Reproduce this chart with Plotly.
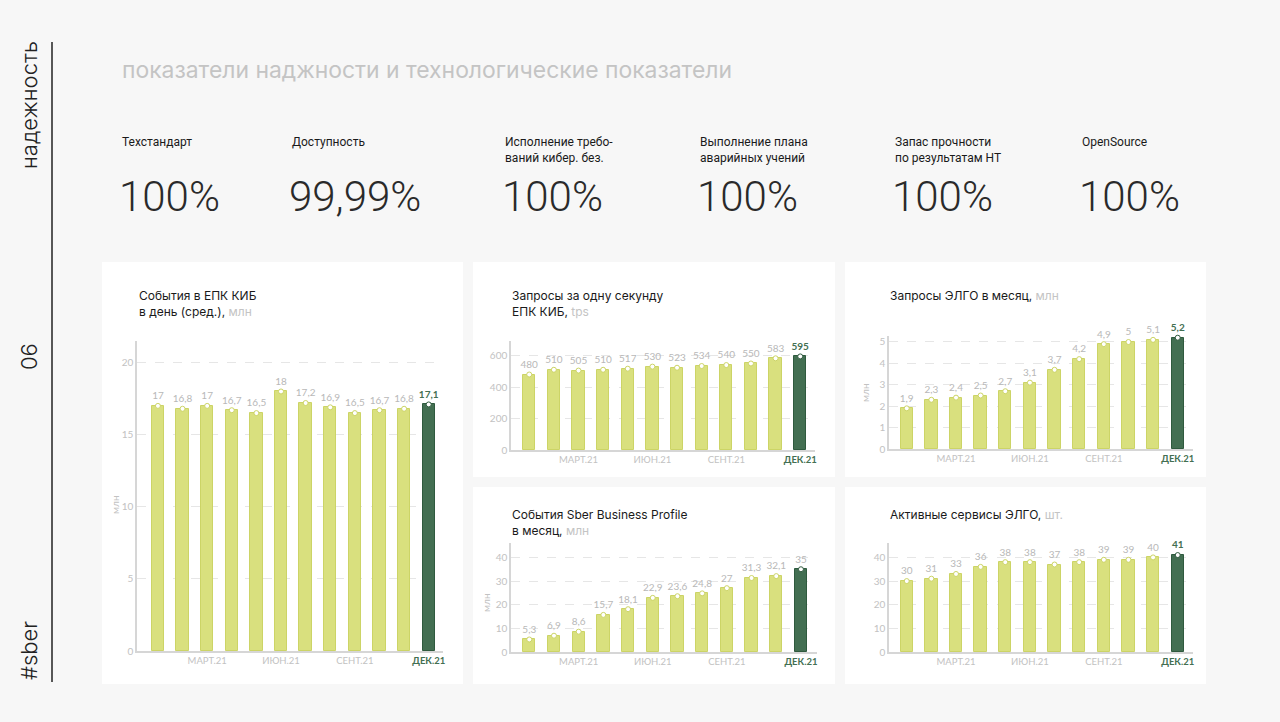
import plotly.graph_objects as go

W, H = 1280, 722

# месяцы 2021
month_idx = list(range(12))
month_ticks = [2, 5, 8, 11]
month_labels = ["МАРТ.21", "ИЮН.21", "СЕНТ.21", "ДЕК.21"]

# KPI сверху
kpi_names = ["Техстандарт", "Доступность", "Исполнение требо-<br>ваний кибер. без.",
             "Выполнение плана<br>аварийных учений", "Запас прочности<br>по результатам НТ", "OpenSource"]
kpi_values = ["100%", "99,99%", "100%", "100%", "100%", "100%"]

# ряды
epk_events = [17, 16.8, 17, 16.7, 16.5, 18, 17.2, 16.9, 16.5, 16.7, 16.8, 17.1]
epk_rps = [480, 510, 505, 510, 517, 530, 523, 534, 540, 550, 583, 595]
elgo_requests = [1.9, 2.3, 2.4, 2.5, 2.7, 3.1, 3.7, 4.2, 4.9, 5, 5.1, 5.2]
sbp_events = [5.3, 6.9, 8.6, 15.7, 18.1, 22.9, 23.6, 24.8, 27, 31.3, 32.1, 35]
elgo_services = [30, 31, 33, 36, 38, 38, 37, 38, 39, 39, 40, 41]

LIGHT = "#d9e07e"
LIGHT_LINE = "#ccd466"
DARK = "#436f52"
DARK_LINE = "#2f5a3e"
GREY = "#c2c2c2"
AXIS = "#d6d6d6"
BG = "#f7f7f7"


def px(x):
    return x / W


def py(y):
    return 1 - y / H


def fmt(v):
    return f"{v:g}".replace(".", ",")


grey_unit = "<span style='color:#c4c4c4'>%s</span>"

panels = [
    dict(vals=epk_events, title="События в ЕПК КИБ<br>в день (сред.), " + grey_unit % "млн",
         x0=137, x1=443, yb=651, yt=341, ymax=21.5, yticks=[0, 5, 10, 15, 20],
         xr=[-0.85, 11.58], tpos=(137, 303), ytitle=(115, 505), hl=True),
    dict(vals=epk_rps, title="Запросы за одну секунду<br>ЕПК КИБ, " + grey_unit % "tps",
         x0=511, x1=815, yb=450, yt=341, ymax=693, yticks=[0, 200, 400, 600],
         xr=[-0.74, 11.6], tpos=(510, 303), ytitle=None, hl=True),
    dict(vals=elgo_requests, title="Запросы ЭЛГО в месяц, " + grey_unit % "млн",
         x0=889, x1=1193, yb=449, yt=336, ymax=5.28, yticks=[0, 1, 2, 3, 4, 5],
         xr=[-0.72, 11.62], tpos=(888, 295), ytitle=(865, 393), hl=True),
    dict(vals=sbp_events, title="События Sber Business Profile<br>в месяц, " + grey_unit % "млн",
         x0=511, x1=817, yb=652, yt=543, ymax=46.1, yticks=[0, 10, 20, 30, 40],
         xr=[-0.74, 11.65], tpos=(510, 522), ytitle=(486, 603), hl=False),
    dict(vals=elgo_services, title="Активные сервисы ЭЛГО, " + grey_unit % "шт.",
         x0=889, x1=1193, yb=652, yt=543, ymax=46.1, yticks=[0, 10, 20, 30, 40],
         xr=[-0.72, 11.62], tpos=(888, 514), ytitle=None, hl=True),
]

# карточки (x0, y0, x1, y1)
cards = [(102, 262, 463, 684), (473, 262, 835, 477), (845, 262, 1206, 477),
         (473, 487, 835, 684), (845, 487, 1206, 684)]

fig = go.Figure()
annotations = []
shapes = []

for c in cards:
    shapes.append(dict(type="rect", xref="paper", yref="paper", x0=px(c[0]), x1=px(c[2]),
                       y0=py(c[3]), y1=py(c[1]), fillcolor="white", line=dict(width=0), layer="below"))

shapes.append(dict(type="line", xref="paper", yref="paper", x0=px(52), x1=px(52),
                   y0=py(682), y1=py(42), line=dict(color="#222222", width=1.5)))

tick_text = month_labels[:-1] + ["<b><span style='color:%s'>%s</span></b>" % (DARK, month_labels[-1])]

for i, p in enumerate(panels):
    n = "" if i == 0 else str(i + 1)
    vals = p["vals"]
    colors = [LIGHT] * (len(vals) - 1) + [DARK]
    lcolors = [LIGHT_LINE] * (len(vals) - 1) + [DARK_LINE]
    fig.add_trace(go.Bar(x=month_idx, y=vals, width=0.5, marker=dict(color=colors, line=dict(color=lcolors, width=1)),
                         xaxis="x" + n, yaxis="y" + n, hoverinfo="skip"))
    labels = [fmt(v) for v in vals]
    tcolors = ["#b8b8b8"] * len(vals)
    if p["hl"]:
        labels[-1] = "<b>%s</b>" % labels[-1]
        tcolors[-1] = DARK
    fig.add_trace(go.Scatter(x=month_idx, y=vals, mode="markers+text", text=labels, textposition="top center",
                             textfont=dict(family="Lato", size=10, color=tcolors), cliponaxis=False,
                             marker=dict(size=5, color="white", line=dict(color=lcolors, width=1)),
                             xaxis="x" + n, yaxis="y" + n, hoverinfo="skip"))
    fig.layout["xaxis" + n] = dict(domain=[px(p["x0"]), px(p["x1"])], range=p["xr"], anchor="y" + n,
                                   showline=True, linecolor=AXIS, linewidth=1.5, showgrid=False, zeroline=False,
                                   tickvals=month_ticks, ticktext=tick_text, ticks="", automargin=False,
                                   tickfont=dict(family="Lato", size=9.5, color=GREY), fixedrange=True)
    fig.layout["yaxis" + n] = dict(domain=[py(p["yb"]), py(p["yt"])], range=[0, p["ymax"]], anchor="x" + n,
                                   showline=True, linecolor=AXIS, linewidth=1.5, showgrid=True,
                                   gridcolor="#e6e6e6", griddash="dash", zeroline=False, automargin=False,
                                   tickvals=p["yticks"], ticks="",
                                   tickfont=dict(family="Lato", size=10, color=GREY), fixedrange=True)
    annotations.append(dict(x=px(p["tpos"][0]), y=py(p["tpos"][1]), xref="paper", yref="paper",
                            xanchor="left", yanchor="middle", align="left", showarrow=False, text=p["title"],
                            font=dict(family="Inter", size=12, color="#1a1a1a")))
    if p["ytitle"]:
        annotations.append(dict(x=px(p["ytitle"][0]), y=py(p["ytitle"][1]), xref="paper", yref="paper",
                                xanchor="center", yanchor="middle",
                                textangle=-90, showarrow=False, text="млн",
                                font=dict(family="Lato", size=10, color=GREY)))

# заголовок и KPI
annotations.append(dict(x=px(120), y=py(70), xref="paper", yref="paper", xanchor="left", yanchor="middle",
                        showarrow=False, text="показатели наджности и технологические показатели",
                        font=dict(family="Inter", size=22.9, color="#c4c4c4")))

kpi_x = [120, 290, 503, 698, 893, 1080]
for x, name, val in zip(kpi_x, kpi_names, kpi_values):
    annotations.append(dict(x=px(x), y=py(133), xref="paper", yref="paper", xanchor="left", yanchor="top",
                            align="left", showarrow=False, text=name,
                            font=dict(family="Roboto", size=12, color="#1a1a1a")))
    annotations.append(dict(x=px(x - 3), y=py(196), xref="paper", yref="paper", xanchor="left", yanchor="middle",
                            showarrow=False, text=val,
                            font=dict(family="Roboto", size=42, color="#2a2a2a", weight=300)))

# вертикальные подписи слева
for text, y in [("надежность", 105), ("06", 357), ("#sber", 651)]:
    annotations.append(dict(x=px(29), y=py(y), xref="paper", yref="paper", xanchor="center", yanchor="middle",
                            textangle=-90, showarrow=False,
                            text=text, font=dict(family="Inter", size=22, color="#222222", weight=300)))

fig.update_layout(width=W, height=H, margin=dict(l=0, r=0, t=0, b=0, autoexpand=False), showlegend=False,
                  paper_bgcolor=BG, plot_bgcolor="rgba(0,0,0,0)", bargap=0,
                  annotations=annotations, shapes=shapes)

# страница без отступов
page_js = """
document.documentElement.style.background = '%s';
document.body.style.margin = '0';
document.body.style.overflow = 'hidden';
document.documentElement.style.overflow = 'hidden';
""" % BG

fig.write_html("out.html", config={"displayModeBar": False}, post_script=page_js)
